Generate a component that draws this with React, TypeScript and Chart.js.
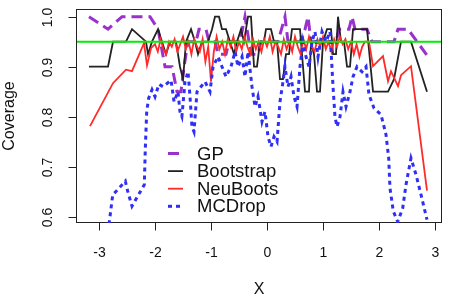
import React, { useEffect, useRef } from 'react';
import { Chart, registerables } from 'chart.js';

Chart.register(...registerables);

// ---------- data ----------
const xTicks = [-3, -2, -1, 0, 1, 2, 3];
const yTicks = [0.6, 0.7, 0.8, 0.9, 1.0];
const yTickLabels = ['0.6', '0.7', '0.8', '0.9', '1.0'];
const xTitle = 'X';
const yTitle = 'Coverage';
const targetCoverage = 0.95;
const seriesNames = ['GP', 'Bootstrap', 'NeuBoots', 'MCDrop'];

const gpX = [-3.179, -2.839, -2.589, -2.089, -1.946, -1.821, -1.696, -1.607, -1.536, -1.482, -1.411, -1.268, -1.214, -1.089, -1.036, -0.929, -0.875, -0.732, -0.679, -0.482, -0.393, -0.321, -0.268, -0.161, -0.107, 0.196, 0.321, 0.375, 0.589, 0.679, 0.732, 0.786, 1.232, 1.286, 1.464, 1.518, 1.571, 1.786, 1.875, 2.268, 2.339, 2.518, 2.875];
const gpY = [1.0, 0.975, 1.0, 1.0, 0.975, 0.9, 0.9, 0.85, 0.85, 0.9, 0.95, 0.95, 0.975, 0.975, 0.95, 0.95, 0.925, 0.925, 0.95, 0.95, 1.0, 0.95, 0.925, 0.925, 0.95, 0.95, 1.0, 0.95, 0.95, 0.975, 1.0, 0.95, 0.95, 0.975, 0.975, 1.0, 0.975, 0.975, 0.95, 0.95, 0.975, 0.975, 0.92];

const bootX = [-3.179, -2.839, -2.75, -2.518, -2.411, -2.161, -2.125, -2.054, -1.946, -1.875, -1.804, -1.732, -1.625, -1.554, -1.5, -1.446, -1.357, -1.286, -1.232, -1.161, -1.054, -0.982, -0.929, -0.857, -0.804, -0.732, -0.661, -0.589, -0.536, -0.464, -0.411, -0.339, -0.286, -0.232, -0.179, -0.125, -0.054, -0.018, 0.071, 0.125, 0.179, 0.232, 0.286, 0.339, 0.393, 0.446, 0.589, 0.643, 0.679, 0.75, 0.786, 0.839, 0.893, 0.946, 1.0, 1.071, 1.143, 1.179, 1.232, 1.268, 1.321, 1.375, 1.429, 1.482, 1.536, 1.661, 1.786, 1.893, 2.161, 2.268, 2.393, 2.571, 2.857];
const bootY = [0.9, 0.9, 0.95, 0.95, 0.975, 0.95, 0.925, 0.95, 0.975, 0.95, 0.925, 0.95, 0.95, 0.9, 0.875, 0.95, 0.975, 0.95, 0.925, 0.95, 0.95, 0.975, 1.0, 1.0, 0.975, 0.975, 0.95, 0.925, 0.95, 0.975, 0.95, 1.0, 1.0, 0.9, 0.9, 0.95, 0.95, 0.975, 0.975, 0.95, 0.95, 0.875, 0.875, 0.925, 0.925, 0.975, 0.975, 0.9, 0.85, 0.85, 0.95, 0.925, 0.85, 0.85, 0.95, 0.975, 0.975, 0.925, 0.925, 1.0, 0.95, 0.95, 0.9, 0.9, 0.975, 0.975, 0.975, 0.85, 0.85, 0.875, 0.95, 0.95, 0.85];

const neuX = [-3.161, -2.75, -2.518, -2.411, -2.196, -2.143, -2.071,
  -2.0, -1.95, -1.9, -1.85, -1.8, -1.75, -1.7, -1.65, -1.6, -1.55, -1.5, -1.45, -1.4, -1.35, -1.3, -1.25, -1.2, -1.15, -1.1, -1.05,
  -1.0, -0.95, -0.9, -0.85, -0.8, -0.75, -0.7, -0.65, -0.6, -0.55, -0.5, -0.45, -0.4, -0.35, -0.3, -0.25, -0.2, -0.15, -0.1, -0.05,
  0, 0.05, 0.1, 0.15, 0.2, 0.25, 0.3, 0.35, 0.4, 0.45, 0.5, 0.55, 0.6, 0.65, 0.7, 0.75, 0.8, 0.85, 0.9, 0.95,
  1.0, 1.05, 1.1, 1.15, 1.2, 1.25, 1.3, 1.35, 1.4, 1.45, 1.5, 1.55, 1.6, 1.65, 1.7, 1.75,
  1.821, 1.893, 2.071, 2.161, 2.214, 2.339, 2.393, 2.571, 2.857];
const neuY = [0.781, 0.867, 0.894, 0.891, 0.947, 0.903, 0.937,
  0.945, 0.93, 0.955, 0.935, 0.925, 0.95, 0.94, 0.955, 0.93, 0.945, 0.96, 0.935, 0.95, 0.925, 0.955, 0.94, 0.93, 0.955, 0.91, 0.94,
  0.87, 0.93, 0.96, 0.935, 0.95, 0.925, 0.955, 0.94, 0.96, 0.93, 0.95, 0.935, 0.96, 0.94, 0.925, 0.955, 0.935, 0.95, 0.93, 0.955,
  0.94, 0.96, 0.93, 0.95, 0.94, 0.925, 0.955, 0.935, 0.95, 0.93, 0.96, 0.94, 0.925, 0.955, 0.935, 0.96, 0.94, 0.93, 0.955, 0.94,
  0.96, 0.935, 0.95, 0.93, 0.955, 0.94, 0.96, 0.945, 0.955, 0.935, 0.95, 0.925, 0.945, 0.92, 0.94, 0.95,
  0.95, 0.901, 0.921, 0.871, 0.891, 0.861, 0.883, 0.901, 0.652];

const mcX = [-2.821, -2.755, -2.666, -2.53, -2.488, -2.411, -2.309, -2.191, -2.173, -2.148, -2.113, -2.054, -2.0, -1.93, -1.857, -1.714, -1.66, -1.59, -1.554, -1.52, -1.464, -1.41, -1.375, -1.34, -1.304, -1.25, -1.18, -1.107, -1.018, -0.964, -0.875, -0.804, -0.732, -0.643, -0.571, -0.518, -0.446, -0.393, -0.339, -0.268, -0.214, -0.161, -0.089, -0.036, 0.018, 0.071, 0.125, 0.179, 0.232, 0.286, 0.321, 0.375, 0.429, 0.482, 0.536, 0.589, 0.643, 0.696, 0.75, 0.804, 0.857, 0.911, 0.982, 1.054, 1.125, 1.179, 1.214, 1.25, 1.304, 1.357, 1.411, 1.482, 1.536, 1.607, 1.696, 1.768, 1.821, 1.911, 2.036, 2.125, 2.173, 2.196, 2.255, 2.334, 2.423, 2.482, 2.571, 2.661, 2.75, 2.857];
const mcY = [0.585, 0.644, 0.654, 0.671, 0.651, 0.621, 0.641, 0.664, 0.737, 0.811, 0.837, 0.854, 0.84, 0.865, 0.86, 0.873, 0.83, 0.85, 0.81, 0.8, 0.87, 0.89, 0.84, 0.78, 0.77, 0.85, 0.86, 0.87, 0.85, 0.9, 0.92, 0.9, 0.88, 0.9, 0.93, 0.9, 0.92, 0.88, 0.93, 0.86, 0.82, 0.84, 0.79, 0.81, 0.76, 0.74, 0.76, 0.75, 0.83, 0.87, 0.9, 0.86, 0.88, 0.84, 0.82, 0.9, 0.95, 0.92, 0.9, 0.95, 0.97, 0.92, 0.97, 0.95, 0.97, 0.86, 0.8, 0.78, 0.8, 0.85, 0.82, 0.85, 0.88, 0.9, 0.89, 0.9, 0.844, 0.817, 0.804, 0.764, 0.717, 0.657, 0.611, 0.59, 0.617, 0.664, 0.717, 0.684, 0.644, 0.594];

// ---------- styling ----------
const FONT = "'Liberation Sans', Arial, Helvetica, sans-serif";
const pts = (xs: number[], ys: number[]) => xs.map((x, i) => ({ x, y: ys[i] }));

const rPlotPlugin = {
  id: 'rPlot',
  beforeDatasetsDraw(chart: any) {
    const { ctx, chartArea: a, scales } = chart;
    const xs = scales.x, ys = scales.y;
    ctx.save();
    ctx.strokeStyle = '#222';
    ctx.fillStyle = '#111';
    ctx.lineWidth = 1;
    const L = Math.round(a.left) - 0.5, R = Math.round(a.right) + 0.5;
    const T = Math.round(a.top) + 0.5, B = Math.round(a.bottom) - 0.5;
    ctx.strokeRect(L, T, R - L, B - T);
    ctx.font = `14px ${FONT}`;
    ctx.textAlign = 'center';
    ctx.textBaseline = 'middle';
    xTicks.forEach((v) => {
      const px = Math.round(xs.getPixelForValue(v)) + 0.5;
      ctx.beginPath();
      ctx.moveTo(px, B);
      ctx.lineTo(px, B + 8);
      ctx.stroke();
      ctx.fillText(String(v), px, a.bottom + 30);
    });
    yTicks.forEach((v, i) => {
      const py = Math.round(ys.getPixelForValue(v)) + 0.5;
      ctx.beginPath();
      ctx.moveTo(L, py);
      ctx.lineTo(L - 8, py);
      ctx.stroke();
      ctx.save();
      ctx.translate(a.left - 29, py);
      ctx.rotate(-Math.PI / 2);
      ctx.fillText(yTickLabels[i], 0, 0);
      ctx.restore();
    });
    ctx.font = `16px ${FONT}`;
    ctx.fillText(xTitle, (a.left + a.right) / 2, a.bottom + 67);
    ctx.save();
    ctx.translate(a.left - 67, (a.top + a.bottom) / 2);
    ctx.rotate(-Math.PI / 2);
    ctx.fillText(yTitle, 0, 0);
    ctx.restore();
    ctx.restore();
  },
  afterDatasetsDraw(chart: any) {
    const { ctx, chartArea: a, scales } = chart;
    const ys = scales.y;
    ctx.save();
    // reference line
    const gy = ys.getPixelForValue(targetCoverage);
    ctx.strokeStyle = '#00ee00';
    ctx.lineWidth = 2;
    ctx.beginPath();
    ctx.moveTo(a.left, gy);
    ctx.lineTo(a.right, gy);
    ctx.stroke();
    // legend
    const lx = a.left + 91;
    const ly = a.top + 144.5;
    const step = 17.6;
    ctx.font = `18.5px ${FONT}`;
    ctx.textAlign = 'left';
    ctx.textBaseline = 'middle';
    seriesNames.forEach((name, i) => {
      const ds = chart.data.datasets.find((d: any) => d.label === name);
      const y = ly + i * step;
      ctx.strokeStyle = ds.borderColor;
      ctx.lineWidth = ds.borderWidth;
      ctx.setLineDash(ds.borderDash || []);
      ctx.beginPath();
      ctx.moveTo(lx, y);
      ctx.lineTo(lx + 15, y);
      ctx.stroke();
      ctx.setLineDash([]);
      ctx.fillStyle = '#111';
      ctx.fillText(name, lx + 29, y + 1);
    });
    ctx.restore();
  },
};

export default function App() {
  const ref = useRef<HTMLCanvasElement | null>(null);
  useEffect(() => {
    document.body.style.margin = '0';
    const chart = new Chart(ref.current as HTMLCanvasElement, {
      type: 'line',
      data: {
        datasets: [
          { label: 'GP', data: pts(gpX, gpY), borderColor: '#9932cc', borderWidth: 3, borderDash: [11, 6], order: 4 },
          { label: 'Bootstrap', data: pts(bootX, bootY), borderColor: '#222222', borderWidth: 1.8, order: 3 },
          { label: 'NeuBoots', data: pts(neuX, neuY), borderColor: '#ff2b2b', borderWidth: 1.8, order: 2 },
          { label: 'MCDrop', data: pts(mcX, mcY), borderColor: '#2f2ff5', borderWidth: 3, borderDash: [4, 4], order: 1 },
        ].map((d) => ({ ...d, pointRadius: 0, tension: 0, fill: false, clip: 0 })) as any,
      },
      options: {
        animation: false,
        responsive: false,
        devicePixelRatio: 1,
        layout: { padding: { left: 77, right: 9, top: 9, bottom: 77 } },
        scales: {
          x: { type: 'linear', min: -3.393, max: 3.107, display: false },
          y: { type: 'linear', min: 0.5874, max: 1.0154, display: false },
        },
        plugins: { legend: { display: false }, tooltip: { enabled: false } },
      },
      plugins: [rPlotPlugin],
    });
    return () => chart.destroy();
  }, []);
  return (
    <div style={{ position: 'absolute', left: 0, top: 0, width: 450, height: 300, background: '#fff' }}>
      <canvas ref={ref} width={450} height={300} />
    </div>
  );
}
